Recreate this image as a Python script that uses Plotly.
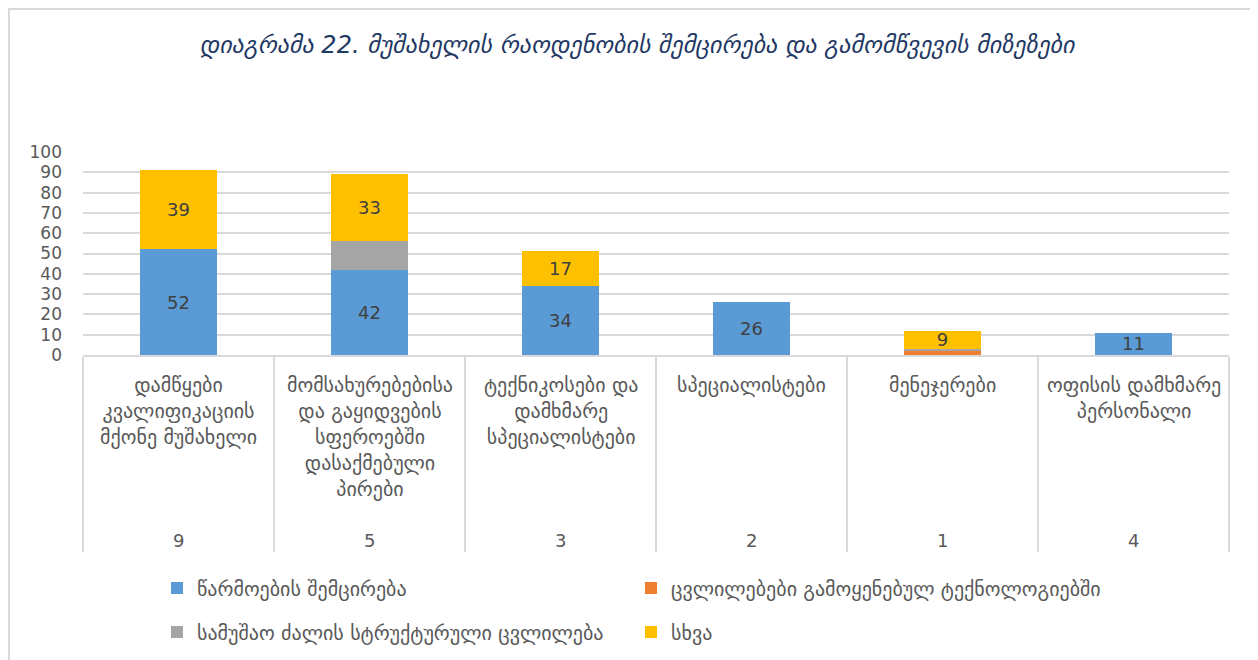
import plotly.graph_objects as go

categories = [
    "დამწყები<br>კვალიფიკაციის<br>მქონე მუშახელი",
    "მომსახურებებისა<br>და გაყიდვების<br>სფეროებში<br>დასაქმებული<br>პირები",
    "ტექნიკოსები და<br>დამხმარე<br>სპეციალისტები",
    "სპეციალისტები",
    "მენეჯერები",
    "ოფისის დამხმარე<br>პერსონალი",
]
group_codes = ["9", "5", "3", "2", "1", "4"]

series_names = [
    "წარმოების შემცირება",
    "ცვლილებები გამოყენებულ ტექნოლოგიებში",
    "სამუშაო ძალის სტრუქტურული ცვლილება",
    "სხვა",
]
production_cut = [52, 42, 34, 26, 0, 11]
technology_change = [0, 0, 0, 0, 2, 0]
structural_change = [0, 14, 0, 0, 1, 0]
other = [39, 33, 17, 0, 9, 0]

colors = ["#5B9BD5", "#ED7D31", "#A5A5A5", "#FFC000"]
values = [production_cut, technology_change, structural_change, other]
show_labels = [True, False, False, True]
legends = ["legend", "legend", "legend2", "legend2"]

fig = go.Figure()
for name, vals, col, lab, lg in zip(series_names, values, colors, show_labels, legends):
    fig.add_trace(go.Bar(
        x=categories, y=vals, name=name,
        marker=dict(color=col, line=dict(width=0)),
        text=[str(v) if (lab and v > 0) else "" for v in vals],
        textposition="inside", insidetextanchor="middle", textangle=0,
        textfont=dict(family="DejaVu Sans", size=18, color="#404040"),
        legend=lg, hoverinfo="name+y",
    ))

gray_txt = "#595959"
geo_font = "DejaVu Sans"

# plot area in screen pixels (page has 8px body margin)
PL, PR, PT, PB = 83, 1229, 152, 355
PW, PH = PR - PL, PB - PT

def px_x(p):
    return (p - PL) / PW

def px_y(p):
    return (PB - p) / PH

# category labels and group codes
for c, g in zip(categories, group_codes):
    fig.add_annotation(x=c, xref="x", y=px_y(371), yref="paper", text=c,
                       showarrow=False, yanchor="top", xanchor="center",
                       font=dict(family=geo_font, size=20, color=gray_txt))
    fig.add_annotation(x=c, xref="x", y=px_y(540), yref="paper", text=g,
                       showarrow=False, yanchor="middle", xanchor="center",
                       font=dict(family=geo_font, size=18, color=gray_txt))

# chart border
fig.add_shape(type="rect", xref="paper", yref="paper",
              x0=px_x(9), x1=px_x(1290), y0=px_y(700), y1=px_y(9),
              line=dict(color="#d9d9d9", width=2), layer="below")

fig.update_layout(
    width=1258, height=660,
    barmode="stack", bargap=0.6,
    plot_bgcolor="white", paper_bgcolor="white",
    margin=dict(l=PL - 8, r=1258 - PR + 8, t=PT - 8, b=660 - PB + 8, autoexpand=False),
    title=dict(
        text="<i>დიაგრამა 22. მუშახელის რაოდენობის შემცირება და გამომწვევის მიზეზები</i>",
        x=0.5, xanchor="center", y=1 - 37 / 660, yanchor="middle",
        font=dict(family=geo_font, size=24, color="#1F3864"),
    ),
    uniformtext=dict(minsize=18, mode="show"),
    showlegend=True,
    legend=dict(orientation="h", x=px_x(157), xanchor="left",
                y=px_y(588), yanchor="middle",
                entrywidth=429, traceorder="normal", itemwidth=30,
                font=dict(family=geo_font, size=20, color=gray_txt),
                bgcolor="rgba(0,0,0,0)"),
    legend2=dict(orientation="h", x=px_x(157), xanchor="left",
                 y=px_y(632), yanchor="middle",
                 entrywidth=429, traceorder="normal", itemwidth=30,
                 font=dict(family=geo_font, size=20, color=gray_txt),
                 bgcolor="rgba(0,0,0,0)"),
    xaxis=dict(
        type="category", categoryorder="array", categoryarray=categories,
        showticklabels=False,
        tickson="boundaries", ticks="outside", ticklen=195,
        tickcolor="#d9d9d9", tickwidth=2,
        showline=True, linecolor="#d9d9d9", linewidth=2,
        showgrid=False, zeroline=False,
    ),
    yaxis=dict(
        range=[0, 100], dtick=10, tick0=0,
        showgrid=True, gridcolor="#d9d9d9", gridwidth=2,
        zeroline=False, showline=False,
        ticklabelstandoff=20,
        tickfont=dict(family="DejaVu Sans", size=17, color=gray_txt),
    ),
)

fig.write_html("out.html")
